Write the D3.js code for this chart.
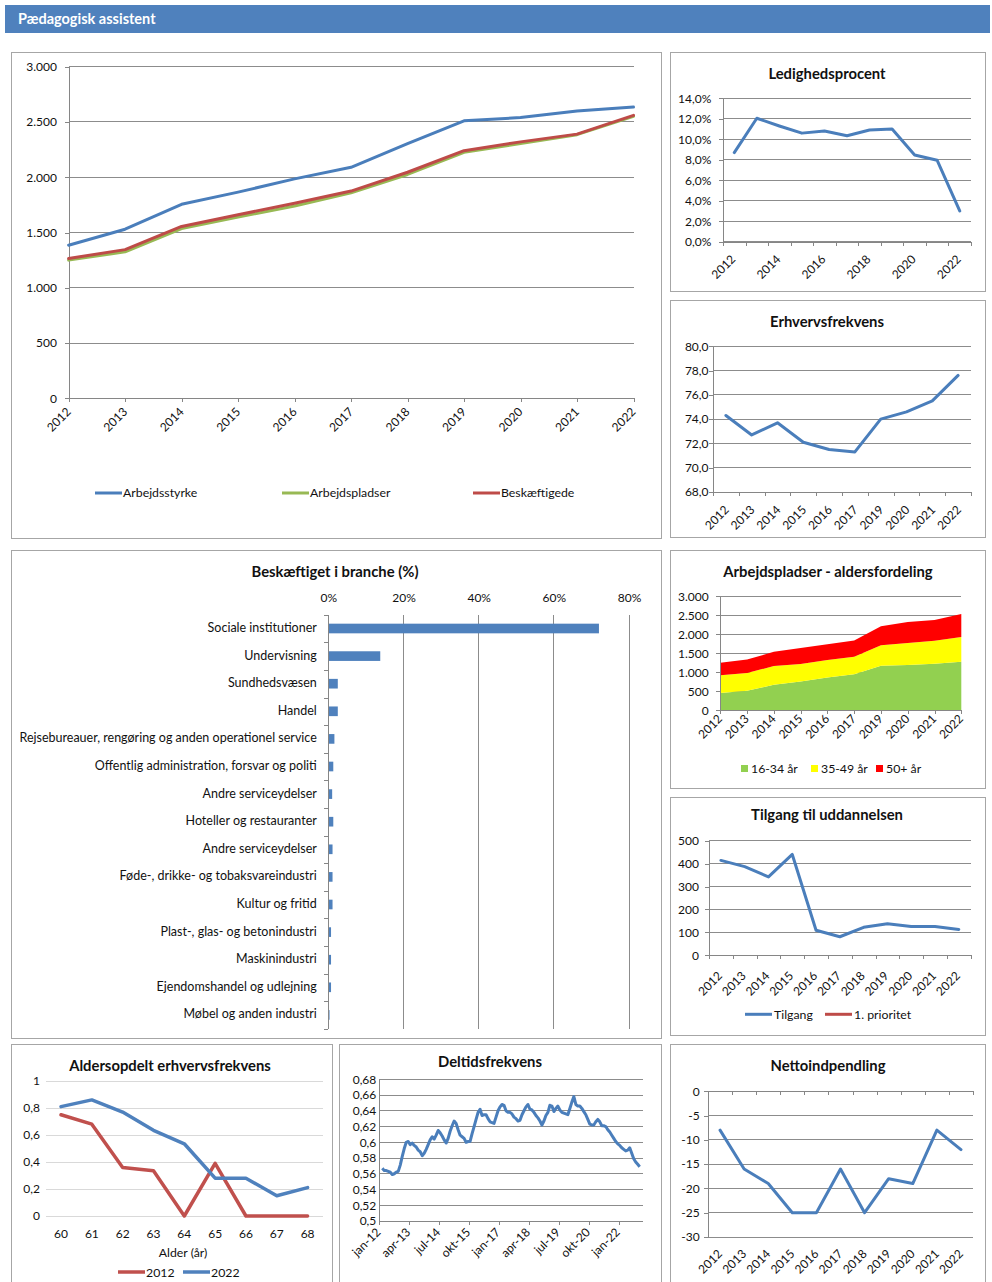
<!DOCTYPE html>
<html>
<head>
<meta charset="utf-8">
<script src="https://cdn.jsdelivr.net/npm/d3@7"></script>
<style>
  body { margin: 0; background: #fff; }
  svg text { font-family: Lato, "Open Sans", sans-serif; fill: #111; }
</style>
</head>
<body>
<svg id="page" width="992" height="1282"></svg>
<script>
// ---------- data ----------
const years = ["2012","2013","2014","2015","2016","2017","2018","2019","2020","2021","2022"];
const yearsNo2018 = ["2012","2013","2014","2015","2016","2017","2019","2020","2021","2022"];

const arbejdsstyrke  = [1385, 1530, 1755, 1865, 1985, 2090, 2305, 2510, 2540, 2600, 2635];
const arbejdspladser = [1250, 1325, 1535, 1640, 1740, 1860, 2025, 2225, 2305, 2385, 2550];
const beskaeftigede  = [1265, 1345, 1555, 1660, 1765, 1875, 2045, 2240, 2320, 2390, 2560];

const ledighed = [0.087, 0.1205, 0.113, 0.106, 0.108, 0.1035, 0.109, 0.110, 0.0847, 0.0795, 0.030];
const erhverv  = [74.3, 72.7, 73.7, 72.1, 71.5, 71.3, 74.0, 74.6, 75.5, 77.6];

const branchLabels = [
  "Sociale institutioner", "Undervisning", "Sundhedsvæsen", "Handel",
  "Rejsebureauer, rengøring og anden operationel service",
  "Offentlig administration, forsvar og politi", "Andre serviceydelser",
  "Hoteller og restauranter", "Andre serviceydelser",
  "Føde-, drikke- og tobaksvareindustri", "Kultur og fritid",
  "Plast-, glas- og betonindustri", "Maskinindustri",
  "Ejendomshandel og udlejning", "Møbel og anden industri"
];
const branchShare = [0.72, 0.138, 0.025, 0.025, 0.016, 0.013, 0.010, 0.013, 0.011, 0.011, 0.011, 0.007, 0.007, 0.007, 0.003];
const branchTicks = [0, 0.2, 0.4, 0.6, 0.8];

const age1634 = [455, 515, 670, 760, 865, 950, 1170, 1195, 1225, 1280];
const age3549 = [465, 465, 495, 460, 460, 460, 540, 575, 605, 650];
const age50   = [330, 355, 375, 420, 410, 430, 500, 555, 545, 605];
const ageKeys = ["16-34 år", "35-49 år", "50+ år"];

const tilgang   = [414, 387, 342, 440, 109, 81, 122, 138, 126, 126, 113];
const prioritet = [null, null, null, null, null, null, null, null, null, null, null];

const alder    = ["60","61","62","63","64","65","66","67","68"];
const frek2012 = [0.75, 0.68, 0.36, 0.335, 0, 0.39, 0, 0, 0];
const frek2022 = [0.81, 0.86, 0.77, 0.635, 0.535, 0.28, 0.28, 0.15, 0.21];

// monthly part-time share, feb-12 .. nov-22
const deltidFirstMonth = 1;
const deltid = [
  0.567, 0.564, 0.564, 0.563, 0.562, 0.559, 0.560, 0.562, 0.563, 0.571, 0.582,
  0.592, 0.600, 0.601, 0.597, 0.599, 0.596, 0.594, 0.590, 0.588, 0.583, 0.586,
  0.591, 0.597, 0.603, 0.607, 0.604, 0.609, 0.615, 0.612, 0.608, 0.603, 0.599,
  0.605, 0.614, 0.621, 0.627, 0.624, 0.616, 0.609, 0.607, 0.605, 0.600, 0.601,
  0.601, 0.611, 0.620, 0.629, 0.638, 0.642, 0.634, 0.635, 0.635, 0.630, 0.626,
  0.625, 0.624, 0.632, 0.640, 0.645, 0.648, 0.647, 0.640, 0.638, 0.638, 0.636,
  0.632, 0.630, 0.627, 0.628, 0.635, 0.640, 0.645, 0.648, 0.642, 0.641, 0.638,
  0.634, 0.631, 0.627, 0.622, 0.627, 0.634, 0.638, 0.647, 0.646, 0.639, 0.643,
  0.646, 0.641, 0.638, 0.637, 0.636, 0.635, 0.643, 0.651, 0.658, 0.648, 0.646,
  0.646, 0.643, 0.639, 0.635, 0.629, 0.623, 0.622, 0.622, 0.626, 0.629, 0.626,
  0.621, 0.621, 0.620, 0.616, 0.613, 0.609, 0.605, 0.601, 0.598, 0.596, 0.593,
  0.591, 0.589, 0.590, 0.593, 0.586, 0.579, 0.575, 0.572, 0.569
];
const deltidTicks = [0.5, 0.52, 0.54, 0.56, 0.58, 0.6, 0.62, 0.64, 0.66, 0.68];
const monthNames = ["jan","feb","mar","apr","maj","jun","jul","aug","sep","okt","nov","dec"];

const netto = [-8, -16, -19, -25, -25, -16, -25, -18, -19, -8, -12];

// ---------- styling ----------
const BLUE = "#4a7ebb", RED = "#be4b48", GREEN = "#98b954";
const AXIS = "#868686", GRID = "#8c8c8c", FRAME = "#a6a6a6";
const TICK_FS = 12, TITLE_FS = 14.8, LEGEND_FS = 12.3;

const loc = d3.formatLocale({decimal: ",", thousands: ".", grouping: [3], currency: ["", " kr."], minus: "-", percent: "%"});
const fmtInt = loc.format(",.0f");

const svg = d3.select("#page");

// header band
svg.append("rect").attr("x", 5).attr("y", 5).attr("width", 985).attr("height", 28).attr("fill", "#4f81bd");
svg.append("text").attr("x", 18).attr("y", 23.8).attr("font-size", 14.5).attr("font-weight", "bold")
  .style("fill", "#fff").text("Pædagogisk assistent");

function frame(x, y, w, h) {
  svg.append("rect").attr("x", x + 0.5).attr("y", y + 0.5).attr("width", w).attr("height", h)
    .attr("fill", "#fff").attr("stroke", FRAME).attr("stroke-width", 1);
}
function title(cx, y, txt, fs) {
  svg.append("text").attr("x", cx).attr("y", y).attr("text-anchor", "middle")
    .attr("font-size", fs || TITLE_FS).attr("font-weight", "bold").text(txt);
}
function styleAxis(sel, color) {
  sel.selectAll("path.domain").attr("stroke", color || AXIS);
  sel.selectAll(".tick line").attr("stroke", color || AXIS);
  sel.selectAll(".tick text").attr("font-size", TICK_FS).style("font-family", "Lato, sans-serif").style("fill", "#111");
}
function rotLabel(g, x, y, txt) {
  g.append("text").attr("transform", `translate(${x},${y}) rotate(-45)`)
    .attr("text-anchor", "end").attr("font-size", TICK_FS).text(txt);
}

frame(11, 52, 650, 486);
frame(670, 52, 315, 239);
frame(670, 300, 315, 237);
frame(11, 550, 650, 488);
frame(670, 550, 315, 238);
frame(670, 797, 315, 238);
frame(11, 1044, 321, 260);
frame(339, 1044, 322, 260);
frame(670, 1044, 315, 260);

// ---------- generic category line chart ----------
function catLineChart(c) {
  const g = svg.append("g");
  const n = c.cats.length;
  const y = d3.scaleLinear().domain(c.yDomain).range([c.yBot, c.yTop]);
  let cx, xi;
  if (c.onTicks) {
    const xp = d3.scalePoint().domain(c.cats).range([c.x0, c.x1]);
    cx = i => xp(c.cats[i]);
    xi = d3.scaleLinear().domain([0, n - 1]).range([c.x0, c.x1]);
  } else {
    const xb = d3.scaleBand().domain(c.cats).range([c.x0, c.x1]);
    cx = i => xb(c.cats[i]) + xb.bandwidth() / 2;
    xi = d3.scaleLinear().domain([0, n]).range([c.x0, c.x1]);
  }
  // horizontal gridlines
  g.selectAll("line.grid").data(c.yTicks).join("line").attr("class", "grid")
    .attr("x1", c.x0).attr("x2", c.x1).attr("y1", d => y(d)).attr("y2", d => y(d))
    .attr("stroke", GRID).attr("stroke-width", 1).attr("shape-rendering", "crispEdges");
  // value axis
  const ya = g.append("g").attr("transform", `translate(${c.x0},0)`)
    .call(d3.axisLeft(y).tickValues(c.yTicks).tickFormat(c.yFmt).tickSize(4).tickSizeOuter(0).tickPadding(c.yPad))
    .attr("shape-rendering", "crispEdges");
  styleAxis(ya);
  // category axis
  const axisY = y(c.xCross !== undefined ? c.xCross : c.yDomain[0]);
  const xa = g.append("g").attr("transform", `translate(0,${axisY})`)
    .call(d3.axisBottom(xi).tickValues(d3.range(xi.domain()[1] + 1)).tickFormat("").tickSize(4).tickSizeOuter(0))
    .attr("shape-rendering", "crispEdges");
  styleAxis(xa);
  // category labels
  c.cats.forEach((lab, i) => {
    if (c.labelEvery && i % c.labelEvery) return;
    rotLabel(g, cx(i) + c.ldx, c.labelY, lab);
  });
  // series
  c.series.forEach(s => {
    g.append("path").datum(s.values)
      .attr("d", d3.line().defined(v => v != null).x((v, i) => cx(i)).y(v => y(v)))
      .attr("fill", "none").attr("stroke", s.color).attr("stroke-width", s.width || 3)
      .attr("stroke-linejoin", "round").attr("stroke-linecap", "round");
  });
  return g;
}

// ---------- main chart: labour force / jobs / employed ----------
catLineChart({
  cats: years, onTicks: true, x0: 68.6, x1: 633.5, yTop: 66.7, yBot: 398.3,
  yDomain: [0, 3000], yTicks: [0, 500, 1000, 1500, 2000, 2500, 3000], yFmt: fmtInt, yPad: 7.6,
  ldx: 3, labelY: 412.7,
  series: [
    {values: arbejdsstyrke, color: BLUE},
    {values: arbejdspladser, color: GREEN},
    {values: beskaeftigede, color: RED}
  ]
});
[["Arbejdsstyrke", BLUE, 95], ["Arbejdspladser", GREEN, 282], ["Beskæftigede", RED, 473]].forEach(([t, col, x]) => {
  svg.append("line").attr("x1", x).attr("x2", x + 27).attr("y1", 493).attr("y2", 493)
    .attr("stroke", col).attr("stroke-width", 3);
  svg.append("text").attr("x", x + 28).attr("y", 497).attr("font-size", LEGEND_FS).text(t);
});

// ---------- Ledighedsprocent ----------
title(827, 79, "Ledighedsprocent");
catLineChart({
  cats: years, x0: 723, x1: 971, yTop: 98.3, yBot: 241.7,
  yDomain: [0, 0.14], yTicks: [0, 0.02, 0.04, 0.06, 0.08, 0.10, 0.12, 0.14], yFmt: loc.format(".1%"), yPad: 7.7,
  labelEvery: 2, ldx: 2, labelY: 260,
  series: [{values: ledighed, color: BLUE}]
});

// ---------- Erhvervsfrekvens ----------
title(827, 326.5, "Erhvervsfrekvens");
catLineChart({
  cats: yearsNo2018, x0: 713, x1: 971, yTop: 346.3, yBot: 492,
  yDomain: [68, 80], yTicks: [68, 70, 72, 74, 76, 78, 80], yFmt: loc.format(".1f"), yPad: 0.5,
  ldx: 3.8, labelY: 510.7,
  series: [{values: erhverv, color: BLUE}]
});

// ---------- Beskæftiget i branche ----------
title(335, 576.5, "Beskæftiget i branche (%)");
{
  const g = svg.append("g");
  const x = d3.scaleLinear().domain([0, 0.8]).range([328.4, 629]);
  const idx = d3.range(branchLabels.length);
  const y = d3.scaleBand().domain(idx).range([614.7, 1028.7]).paddingInner(0.65).paddingOuter(0.325);
  // vertical gridlines
  g.selectAll("line.grid").data(branchTicks.slice(1)).join("line")
    .attr("x1", d => x(d)).attr("x2", d => x(d)).attr("y1", 614.7).attr("y2", 1028.7)
    .attr("stroke", GRID).attr("shape-rendering", "crispEdges");
  // top value labels
  const xa = g.append("g").attr("transform", "translate(0,602)")
    .call(d3.axisTop(x).tickValues(branchTicks).tickFormat(loc.format(".0%")).tickSize(0).tickPadding(0));
  xa.select(".domain").remove();
  styleAxis(xa);
  // bars
  g.selectAll("rect.bar").data(idx).join("rect")
    .attr("x", x(0)).attr("y", i => y(i)).attr("width", i => x(branchShare[i]) - x(0)).attr("height", y.bandwidth())
    .attr("fill", "#4f81bd");
  // category axis with tick marks at slot boundaries
  const yi = d3.scaleLinear().domain([0, branchLabels.length]).range([614.7, 1028.7]);
  const ya = g.append("g").attr("transform", `translate(${x(0)},0)`)
    .call(d3.axisLeft(yi).tickValues(d3.range(branchLabels.length + 1)).tickFormat("").tickSize(4).tickSizeOuter(0))
    .attr("shape-rendering", "crispEdges");
  styleAxis(ya);
  g.selectAll("text.cat").data(idx).join("text")
    .attr("x", 316.8).attr("y", i => y(i) + y.bandwidth() / 2 + 3.5)
    .attr("text-anchor", "end").attr("font-size", 12.5).text(i => branchLabels[i]);
}

// ---------- Arbejdspladser - aldersfordeling ----------
title(828, 576.5, "Arbejdspladser - aldersfordeling");
{
  const g = svg.append("g");
  const rows = yearsNo2018.map((yr, i) => ({year: yr, "16-34 år": age1634[i], "35-49 år": age3549[i], "50+ år": age50[i]}));
  const stacked = d3.stack().keys(ageKeys)(rows);
  const x = d3.scalePoint().domain(yearsNo2018).range([720.3, 961.3]);
  const y = d3.scaleLinear().domain([0, 3000]).range([710.3, 596.3]);
  const ticks = [0, 500, 1000, 1500, 2000, 2500, 3000];
  g.selectAll("line.grid").data(ticks).join("line")
    .attr("x1", 720.3).attr("x2", 961.3).attr("y1", d => y(d)).attr("y2", d => y(d))
    .attr("stroke", GRID).attr("shape-rendering", "crispEdges");
  const colors = {"16-34 år": "#92d050", "35-49 år": "#ffff00", "50+ år": "#ff0000"};
  g.selectAll("path.layer").data(stacked).join("path")
    .attr("fill", d => colors[d.key])
    .attr("d", d3.area().x(d => x(d.data.year)).y0(d => y(d[0])).y1(d => y(d[1])));
  const ya = g.append("g").attr("transform", "translate(720.3,0)")
    .call(d3.axisLeft(y).tickValues(ticks).tickFormat(fmtInt).tickSize(4).tickSizeOuter(0).tickPadding(7.7))
    .attr("shape-rendering", "crispEdges");
  styleAxis(ya);
  const xa = g.append("g").attr("transform", "translate(0,710.3)")
    .call(d3.axisBottom(x).tickFormat("").tickSize(4).tickSizeOuter(0))
    .attr("shape-rendering", "crispEdges");
  styleAxis(xa);
  yearsNo2018.forEach(yr => rotLabel(g, x(yr) + 2.7, 719.7, yr));
  [["16-34 år", 741], ["35-49 år", 811], ["50+ år", 876]].forEach(([k, lx]) => {
    g.append("rect").attr("x", lx).attr("y", 765).attr("width", 7).attr("height", 7).attr("fill", colors[k]);
    g.append("text").attr("x", lx + 10).attr("y", 772.5).attr("font-size", LEGEND_FS).text(k);
  });
}

// ---------- Tilgang til uddannelsen ----------
title(827, 820, "Tilgang til uddannelsen");
catLineChart({
  cats: years, x0: 709, x1: 970.7, yTop: 840.7, yBot: 955.3,
  yDomain: [0, 500], yTicks: [0, 100, 200, 300, 400, 500], yFmt: fmtInt, yPad: 6,
  ldx: 2, labelY: 976.7,
  series: [{values: tilgang, color: BLUE}, {values: prioritet, color: RED}]
});
[["Tilgang", BLUE, 745], ["1. prioritet", RED, 825]].forEach(([t, col, x]) => {
  svg.append("line").attr("x1", x).attr("x2", x + 27).attr("y1", 1014.3).attr("y2", 1014.3)
    .attr("stroke", col).attr("stroke-width", 3);
  svg.append("text").attr("x", x + 29).attr("y", 1018.5).attr("font-size", LEGEND_FS).text(t);
});

// ---------- Aldersopdelt erhvervsfrekvens ----------
title(170, 1070.5, "Aldersopdelt erhvervsfrekvens");
{
  const g = svg.append("g");
  const x = d3.scaleBand().domain(alder).range([45.6, 323]);
  const y = d3.scaleLinear().domain([0, 1]).range([1216, 1081]);
  const ticks = [0, 0.2, 0.4, 0.6, 0.8, 1];
  g.selectAll("line.grid").data(ticks).join("line")
    .attr("x1", 45.6).attr("x2", 323).attr("y1", d => y(d)).attr("y2", d => y(d))
    .attr("stroke", "#d9d9d9").attr("shape-rendering", "crispEdges");
  const ya = g.append("g").attr("transform", "translate(45.6,0)")
    .call(d3.axisLeft(y).tickValues(ticks).tickFormat(loc.format(".1~f")).tickSize(0).tickPadding(5.6));
  ya.select(".domain").remove();
  styleAxis(ya);
  const xa = g.append("g").attr("transform", "translate(0,1216)")
    .call(d3.axisBottom(x).tickSize(0).tickPadding(13));
  xa.select(".domain").remove();
  styleAxis(xa);
  const line = d3.line().x((v, i) => x(alder[i]) + x.bandwidth() / 2).y(v => y(v));
  [[frek2012, "#c0504d"], [frek2022, "#4f81bd"]].forEach(([vals, col]) => {
    g.append("path").datum(vals).attr("d", line).attr("fill", "none")
      .attr("stroke", col).attr("stroke-width", 3.5).attr("stroke-linejoin", "round").attr("stroke-linecap", "round");
  });
  g.append("text").attr("x", 183).attr("y", 1257).attr("text-anchor", "middle").attr("font-size", LEGEND_FS).text("Alder (år)");
  [["2012", "#c0504d", 118], ["2022", "#4f81bd", 183]].forEach(([t, col, lx]) => {
    g.append("line").attr("x1", lx).attr("x2", lx + 27).attr("y1", 1272).attr("y2", 1272)
      .attr("stroke", col).attr("stroke-width", 3.5);
    g.append("text").attr("x", lx + 28).attr("y", 1276.5).attr("font-size", LEGEND_FS).text(t);
  });
}

// ---------- Deltidsfrekvens ----------
title(490, 1067, "Deltidsfrekvens");
{
  const g = svg.append("g");
  const nMonths = 132;
  const monthLabel = i => monthNames[i % 12] + "-" + String(12 + Math.floor(i / 12));
  const x = d3.scaleLinear().domain([0, nMonths]).range([379.3, 642.7]);
  const y = d3.scaleLinear().domain([0.5, 0.68]).range([1221, 1079.3]);
  g.selectAll("line.grid").data(deltidTicks).join("line")
    .attr("x1", 379.3).attr("x2", 642.7).attr("y1", d => y(d)).attr("y2", d => y(d))
    .attr("stroke", GRID).attr("shape-rendering", "crispEdges");
  const ya = g.append("g").attr("transform", "translate(379.3,0)")
    .call(d3.axisLeft(y).tickValues(deltidTicks).tickFormat(loc.format(".2~f")).tickSize(0).tickPadding(3))
    .attr("shape-rendering", "crispEdges");
  styleAxis(ya);
  const tickIdx = d3.range(0, 121, 15);
  const xa = g.append("g").attr("transform", "translate(0,1221)")
    .call(d3.axisBottom(x).tickValues(tickIdx).tickFormat("").tickSize(4).tickSizeOuter(0))
    .attr("shape-rendering", "crispEdges");
  styleAxis(xa);
  tickIdx.forEach(i => rotLabel(g, x(i) + 2, 1233, monthLabel(i)));
  g.append("path").datum(deltid)
    .attr("d", d3.line().x((v, i) => x(deltidFirstMonth + i + 0.5)).y(v => y(v)))
    .attr("fill", "none").attr("stroke", BLUE).attr("stroke-width", 3).attr("stroke-linejoin", "round");
}

// ---------- Nettoindpendling ----------
title(828, 1070.5, "Nettoindpendling");
catLineChart({
  cats: years, x0: 708, x1: 973, yTop: 1091.3, yBot: 1237,
  yDomain: [-30, 0], yTicks: [-30, -25, -20, -15, -10, -5, 0], yFmt: loc.format("d"), yPad: 4.3,
  xCross: 0, ldx: 3, labelY: 1254.7,
  series: [{values: netto, color: BLUE}]
});
</script>
</body>
</html>
